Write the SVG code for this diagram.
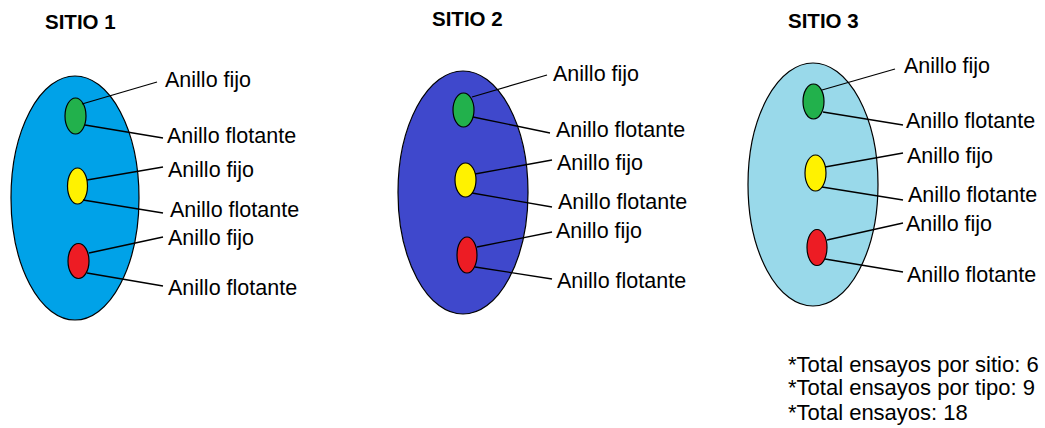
<svg xmlns="http://www.w3.org/2000/svg" width="1045" height="428" viewBox="0 0 1045 428">
<style>
text{font-family:"Liberation Sans",Arial,sans-serif;fill:#000}
.t{font-size:20.5px;font-weight:bold}
.l{font-size:21.5px}
.n{font-size:22px}
.e{stroke:#000;stroke-width:1.2}
.g{fill:#22B14C}.y{fill:#FFF200}.r{fill:#ED1C24}
.c line{stroke:#000;stroke-width:1.3}
</style>
<rect width="1045" height="428" fill="#fff"/>
<g id="sitio1">
<text class="t" x="45" y="29">SITIO 1</text>
<ellipse class="e" cx="75" cy="198" rx="64" ry="122" fill="#00A2E8"/>
<ellipse class="e g" cx="75.5" cy="116" rx="10.5" ry="18"/>
<ellipse class="e y" cx="77.5" cy="186" rx="10" ry="18"/>
<ellipse class="e r" cx="78.5" cy="261" rx="10.5" ry="17.5"/>
<text class="l" x="165" y="87">Anillo fijo</text>
<text class="l" x="167" y="143">Anillo flotante</text>
<text class="l" x="168" y="177">Anillo fijo</text>
<text class="l" x="170" y="217">Anillo flotante</text>
<text class="l" x="168" y="245">Anillo fijo</text>
<text class="l" x="168" y="295">Anillo flotante</text>
</g>
<g id="sitio2">
<text class="t" x="432" y="26">SITIO 2</text>
<ellipse class="e" cx="463" cy="192.5" rx="65" ry="121.5" fill="#3F48CC"/>
<ellipse class="e g" cx="463.5" cy="110" rx="10.5" ry="17"/>
<ellipse class="e y" cx="465.5" cy="180" rx="10.5" ry="17"/>
<ellipse class="e r" cx="467" cy="255" rx="10" ry="18"/>
<text class="l" x="553" y="81">Anillo fijo</text>
<text class="l" x="556" y="137">Anillo flotante</text>
<text class="l" x="557" y="170">Anillo fijo</text>
<text class="l" x="558" y="209">Anillo flotante</text>
<text class="l" x="556" y="238">Anillo fijo</text>
<text class="l" x="557" y="288">Anillo flotante</text>
</g>
<g id="sitio3">
<text class="t" x="788" y="28">SITIO 3</text>
<ellipse class="e" cx="813" cy="184.5" rx="65" ry="121.5" fill="#99D9EA"/>
<ellipse class="e g" cx="813.5" cy="101.5" rx="10.5" ry="17.5"/>
<ellipse class="e y" cx="815.5" cy="173" rx="10.5" ry="18"/>
<ellipse class="e r" cx="817" cy="247.5" rx="10" ry="18"/>
<text class="l" x="904" y="73">Anillo fijo</text>
<text class="l" x="906" y="128">Anillo flotante</text>
<text class="l" x="907" y="163">Anillo fijo</text>
<text class="l" x="908" y="202">Anillo flotante</text>
<text class="l" x="906" y="231">Anillo fijo</text>
<text class="l" x="907" y="282">Anillo flotante</text>
</g>
<g id="totales">
<text class="n" x="788" y="372">*Total ensayos por sitio: 6</text>
<text class="n" x="788" y="395">*Total ensayos por tipo: 9</text>
<text class="n" x="788" y="420">*Total ensayos: 18</text>
</g>
<g id="connectors" class="c">
<line x1="82" y1="104" x2="157" y2="82"/>
<line x1="85" y1="125" x2="163" y2="138"/>
<line x1="87" y1="180" x2="163" y2="167"/>
<line x1="83" y1="200" x2="163" y2="213"/>
<line x1="89" y1="253" x2="163" y2="237"/>
<line x1="87" y1="273" x2="163" y2="286"/>
<line x1="472" y1="97" x2="547" y2="75"/>
<line x1="473" y1="117" x2="550" y2="133"/>
<line x1="475" y1="174" x2="552" y2="160"/>
<line x1="472" y1="193" x2="552" y2="207"/>
<line x1="477" y1="247" x2="552" y2="232"/>
<line x1="475" y1="267" x2="552" y2="279"/>
<line x1="822" y1="90" x2="895" y2="69"/>
<line x1="823" y1="112" x2="903" y2="125"/>
<line x1="825" y1="167" x2="903" y2="153"/>
<line x1="822" y1="187" x2="903" y2="200"/>
<line x1="827" y1="240" x2="903" y2="223"/>
<line x1="825" y1="259" x2="903" y2="272"/>
</g>
</svg>
